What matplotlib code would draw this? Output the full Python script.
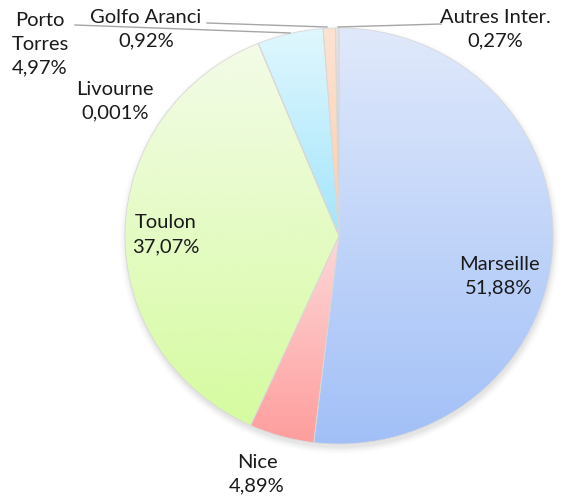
import numpy as np
import matplotlib
matplotlib.use("Agg")
import matplotlib.pyplot as plt
from matplotlib.colors import LinearSegmentedColormap
from matplotlib.patches import Ellipse

plt.rcParams['font.family'] = ['Lato', 'DejaVu Sans']

# parts de trafic par port
ports = ['Marseille', 'Nice', 'Toulon', 'Livourne', 'Porto Torres', 'Golfo Aranci', 'Autres Inter.']
parts = [51.88, 4.89, 37.07, 0.001, 4.97, 0.92, 0.27]
labels = ['Marseille\n51,88%', 'Nice\n4,89%', 'Toulon\n37,07%', 'Livourne\n0,001%',
          'Porto\nTorres\n4,97%', 'Golfo Aranci\n0,92%', 'Autres Inter.\n0,27%']
# (haut, bas) du degrade
grad_top = ['#e0e9fb', '#fdd8d8', '#f3fbe8', '#f3fbe8', '#e0f7fe', '#fde3d2', '#e4e4e4']
grad_bot = ['#a2c0f7', '#ff9d9d', '#d6fba0', '#d6fba0', '#a3e5fc', '#fbcdae', '#c4c4c4']

W, H = 577, 499
fig = plt.figure(figsize=(W / 100, H / 100), dpi=100)

# axe du camembert (legerement elliptique comme l'original)
left, right, top, bottom = 125, 553, 28, 444
ax = fig.add_axes([left / W, 1 - bottom / H, (right - left) / W, (bottom - top) / H])
ax.axis('off')

# ombre douce
for i, a in enumerate(np.linspace(0.05, 0.012, 6)):
    ax.add_patch(Ellipse((0.004, -0.018), 2.0 + 0.012 * i, 2.0 + 0.012 * i,
                         facecolor='#808080', edgecolor='none', alpha=a, zorder=0,
                         clip_on=False))

wedges, _ = ax.pie(parts, radius=1, startangle=90, counterclock=False,
                   colors=grad_bot, wedgeprops=dict(edgecolor='#d8d8d8', linewidth=0.6))

grad = np.linspace(0, 1, 256).reshape(-1, 1)
for w, c0, c1 in zip(wedges, grad_top, grad_bot):
    w.set_zorder(2)
    ext = w.get_path().get_extents()
    cmap = LinearSegmentedColormap.from_list('g', [c0, c1])
    im = ax.imshow(grad, cmap=cmap, aspect='auto', origin='upper',
                   extent=[ext.x0, ext.x1, ext.y0, ext.y1], zorder=1,
                   interpolation='bilinear')
    im.set_clip_path(w)
    w.set_facecolor('none')
ax.set_aspect('auto')
ax.set_xlim(-1, 1)
ax.set_ylim(-1, 1)

# axe de superposition en pixels pour etiquettes et traits de rappel
ov = fig.add_axes([0, 0, 1, 1])
ov.set_xlim(0, W)
ov.set_ylim(H, 0)
ov.axis('off')

label_pos = [(499, 276), (257, 474), (166, 235), (115, 101), (40, 44), (146, 29), (495, 29)]
for lab, (x, y) in zip(labels, label_pos):
    ov.text(x, y, lab, ha='center', va='center', fontsize=14.5, color='#1a1a1a',
            linespacing=1.5)

leaders = [((75, 25), (290, 33)), ((207, 23), (327, 27)), ((338, 27), (441, 24))]
for (x0, y0), (x1, y1) in leaders:
    ov.plot([x0, x1], [y0, y1], color='#a6a6a6', lw=1.0)

fig.savefig('out.png', dpi=100)
